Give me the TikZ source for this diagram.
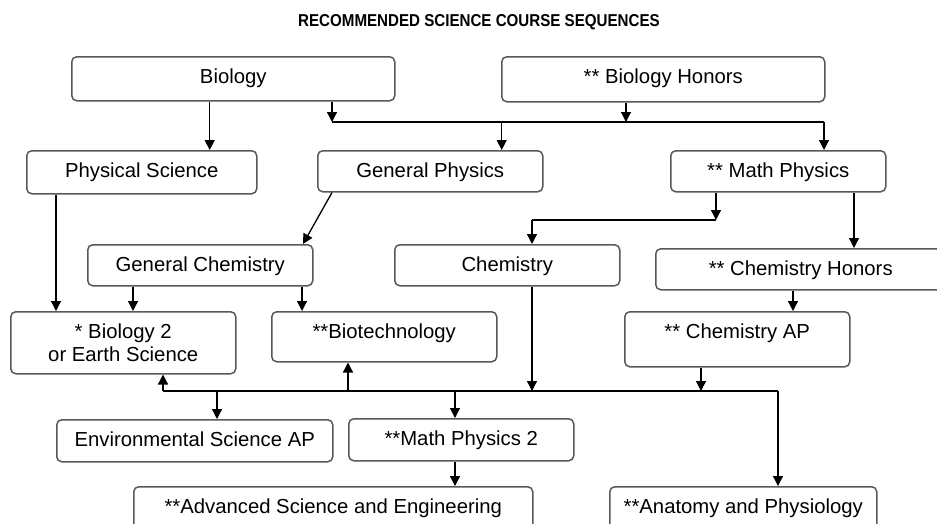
\documentclass[tikz,border=0pt]{standalone}
\usepackage{graphicx}
\usepackage{fontspec}
\setmainfont{Liberation Sans}
\usetikzlibrary{arrows.meta}
\begin{document}
\begin{tikzpicture}[x=1pt,y=-1pt,
  box/.style={draw=black!65, line width=1.5pt, rounded corners=5pt, inner xsep=0pt, inner ysep=0pt,
    font=\fontsize{20.3}{23}\selectfont, anchor=north west},
  tbox/.style={box, text height=26.5pt},
  arr/.style={draw=black, line width=1.3pt, -{Triangle[width=10pt,length=10pt]}},
  ln/.style={draw=black, line width=1.3pt}]
\clip (0,0) rectangle (937,523);
\fill[white] (0,0) rectangle (937,523);

\node[font=\bfseries\fontsize{17.2}{20}\selectfont, anchor=base] (title) at (479,26.5)
  {\scalebox{0.88}[1]{RECOMMENDED SCIENCE COURSE SEQUENCES}};

% boxes
\node[tbox, minimum width=323pt, text depth=17.5pt] (bio) at (71,56) {Biology};
\node[tbox, minimum width=323pt, text depth=18.5pt] (bioh) at (501,56) {** Biology Honors};
\node[tbox, minimum width=230pt, text depth=16.5pt] (phys) at (26,150) {Physical Science};
\node[tbox, minimum width=225pt, text depth=14.5pt] (gphys) at (317,150) {General Physics};
\node[tbox, minimum width=215pt, text depth=14.5pt] (mphys) at (670,150) {** Math Physics};
\node[tbox, minimum width=225pt, text depth=14.5pt] (gchem) at (87,244) {General Chemistry};
\node[tbox, minimum width=225pt, text depth=14.5pt] (chem) at (394,244) {Chemistry};
\node[tbox, minimum width=290pt, text depth=14.5pt] (chemh) at (655,248) {** Chemistry Honors};
\node[box, minimum width=225pt, minimum height=62pt, align=center] (bio2) at (10,311) {* Biology 2\\or Earth Science};
\node[tbox, minimum width=225pt, text depth=23.5pt] (biotech) at (271,311) {**Biotechnology};
\node[tbox, minimum width=225pt, text depth=28.5pt] (chemap) at (624,311) {** Chemistry AP};
\node[tbox, minimum width=276pt, text depth=15.5pt] (env) at (56,419) {Environmental Science AP};
\node[tbox, minimum width=225pt, text depth=15.5pt] (mp2) at (348,418) {**Math Physics 2};
\node[tbox, minimum width=399pt, text depth=30pt] (adv) at (133,486) {**Advanced Science and Engineering};
\node[tbox, minimum width=267pt, text depth=30pt] (anat) at (609,486) {**Anatomy and Physiology};

% junction points
\coordinate (j1) at (332,122);
\coordinate (jb) at (626,122);
\coordinate (jg) at (501.7,122);
\coordinate (jr) at (824,122);
\coordinate (jm) at (716,220);
\coordinate (jc) at (532,220);
\coordinate (ja) at (163,391);
\coordinate (je) at (217,391);
\coordinate (jt) at (348,391);
\coordinate (jq) at (455,391);
\coordinate (jk) at (532,391);
\coordinate (jp) at (701,391);
\coordinate (jz) at (778,391);

% top connectors
\draw[arr] (bio.south -| 209.7,0) -- (phys.north -| 209.7,0);
\draw[arr] (bio.south -| j1) -- (j1);
\draw[ln] (j1) -- (jr);
\draw[arr] (bioh.south -| jb) -- (jb);
\draw[arr] (jg) -- (gphys.north -| jg);
\draw[arr] (jr) -- (mphys.north -| jr);

% middle connectors
\draw[arr] (gphys.south -| 332,0) -- (gchem.north -| 303,0);
\draw[arr] (mphys.south -| jm) -- (jm);
\draw[ln] (jm) -- (jc);
\draw[arr] (jc) -- (chem.north -| jc);
\draw[arr] (mphys.south -| 854,0) -- (chemh.north -| 854,0);
\draw[arr] (chemh.south -| 793,0) -- (chemap.north -| 793,0);
\draw[arr] (phys.south -| 56,0) -- (bio2.north -| 56,0);
\draw[arr] (gchem.south -| 133,0) -- (bio2.north -| 133,0);
\draw[arr] (gchem.south -| 302,0) -- (biotech.north -| 302,0);

% bottom connectors
\draw[arr] (chem.south -| jk) -- (jk);
\draw[arr] (chemap.south -| jp) -- (jp);
\draw[ln] (ja) -- (jz);
\draw[arr] (jz) -- (anat.north -| jz);
\draw[arr] (ja) -- (bio2.south -| ja);
\draw[arr] (jt) -- (biotech.south -| jt);
\draw[arr] (je) -- (env.north -| je);
\draw[arr] (jq) -- (mp2.north -| jq);
\draw[arr] (mp2.south -| jq) -- (adv.north -| jq);
\end{tikzpicture}
\end{document}
